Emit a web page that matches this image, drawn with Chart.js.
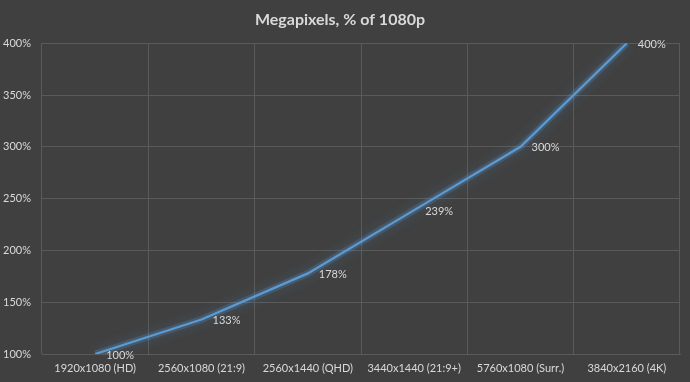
<!DOCTYPE html>
<html>
<head>
<meta charset="utf-8">
<script src="https://cdn.jsdelivr.net/npm/chart.js@4"></script>
<style>
html,body{margin:0;padding:0;background:#404040;}
#wrap{width:690px;height:382px;}
</style>
</head>
<body>
<div id="wrap"><canvas id="c" width="690" height="382"></canvas></div>
<script>
const categories = ["1920x1080 (HD)", "2560x1080 (21:9)", "2560x1440 (QHD)", "3440x1440 (21:9+)", "5760x1080 (Surr.)", "3840x2160 (4K)"];
const values = [100, 133.3, 177.8, 238.9, 300, 400];
const valueLabels = ["100%", "133%", "178%", "239%", "300%", "400%"];
const yTicks = [100, 150, 200, 250, 300, 350, 400];

const FONT = "Lato, 'Open Sans', sans-serif";
const TEXT = "#d9d9d9";
const GRID = "#5a5a5a";

const bg = {
  id: 'bg',
  beforeDraw(chart) {
    const ctx = chart.ctx;
    ctx.save();
    ctx.fillStyle = '#404040';
    ctx.fillRect(0, 0, chart.width, chart.height);
    ctx.restore();
  }
};
const glow = {
  id: 'glow',
  beforeDatasetDraw(chart, args) {
    const ctx = chart.ctx;
    ctx.save();
    if (args.index === 0) {
      ctx.shadowColor = 'rgba(91,155,213,0.9)';
      ctx.shadowBlur = 12;
    }
  },
  afterDatasetDraw(chart) {
    chart.ctx.restore();
  }
};
const labels = {
  id: 'labels',
  afterDatasetsDraw(chart) {
    const ctx = chart.ctx;
    const meta = chart.getDatasetMeta(1);
    ctx.save();
    ctx.font = "11px " + FONT;
    ctx.fillStyle = TEXT;
    ctx.textAlign = 'left';
    ctx.textBaseline = 'middle';
    meta.data.forEach((pt, i) => {
      ctx.fillText(valueLabels[i], pt.x + 11, pt.y + 1);
    });
    ctx.restore();
  }
};

new Chart(document.getElementById('c'), {
  type: 'line',
  data: {
    labels: categories,
    datasets: [{
      data: values,
      borderColor: 'rgba(91,155,213,0.22)',
      borderWidth: 7,
      pointRadius: 0,
      tension: 0,
      fill: false
    }, {
      data: values,
      borderColor: '#5b9bd5',
      borderWidth: 2.25,
      pointRadius: 0,
      tension: 0,
      fill: false
    }]
  },
  options: {
    responsive: false,
    animation: false,
    devicePixelRatio: 1,
    layout: { padding: { left: 0, right: 10, top: 0, bottom: 0 } },
    plugins: {
      legend: { display: false },
      tooltip: { enabled: false },
      title: {
        display: true,
        text: 'Megapixels, % of 1080p',
        color: TEXT,
        font: { family: FONT, size: 16, weight: 'bold' },
        padding: { top: 10, bottom: 14 }
      }
    },
    scales: {
      x: {
        offset: true,
        grid: { color: GRID, offset: true, drawTicks: false, lineWidth: 1 },
        border: { color: GRID },
        ticks: {
          color: TEXT, font: { family: FONT, size: 11 },
          maxRotation: 0, autoSkip: false, padding: 8
        },
        afterFit(s) { s.height = 28; }
      },
      y: {
        min: 100, max: 400,
        afterBuildTicks(s) { s.ticks = yTicks.map(v => ({ value: v })); },
        grid: { color: GRID, drawTicks: false, lineWidth: 1 },
        border: { display: false },
        ticks: {
          color: TEXT, font: { family: FONT, size: 11 }, padding: 11,
          callback: v => v + '%'
        },
        afterFit(s) { s.width = 42; }
      }
    }
  },
  plugins: [bg, glow, labels]
});
</script>
</body>
</html>
